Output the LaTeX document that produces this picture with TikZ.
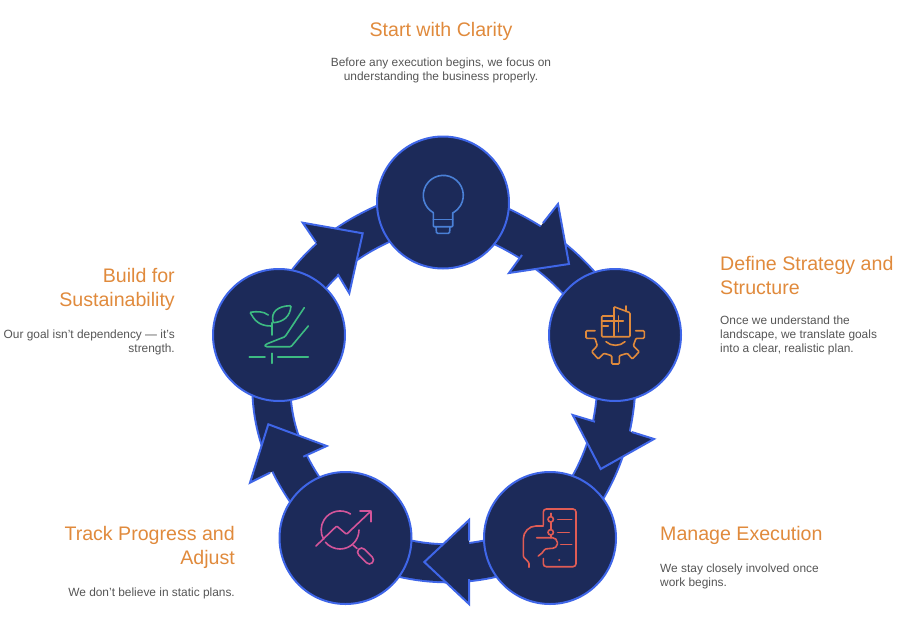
\documentclass[tikz,border=0pt]{standalone}
\usepackage{fontspec}
\setmainfont{Liberation Sans}
\usepackage{tikz}
\usetikzlibrary{positioning,backgrounds}
\definecolor{DeepNavy}{HTML}{1C2A59}
\definecolor{RimBlue}{HTML}{3F66E8}
\definecolor{TitleOrange}{HTML}{E08A3C}
\definecolor{BodyGray}{HTML}{555555}
\definecolor{BulbBlue}{HTML}{4A80D6}
\definecolor{GearOrange}{HTML}{E08A3C}
\definecolor{PhoneRed}{HTML}{E05C55}
\definecolor{ChartPink}{HTML}{D4559A}
\definecolor{PlantGreen}{HTML}{3DBB82}
\begin{document}
\begin{tikzpicture}[x=1pt,y=-1pt,
stage/.style={circle,draw=RimBlue,fill=DeepNavy,line width=2pt,minimum size=132pt,inner sep=0pt},
band/.style={line width=2pt,draw=RimBlue,double=DeepNavy,double distance=36pt},
head/.style={draw=RimBlue,fill=DeepNavy,line width=2pt,line join=miter},
icon/.style={line width=1.6pt,rounded corners=1pt,line cap=round},
title/.style={inner sep=0pt,text=TitleOrange,font=\fontsize{19.6}{24}\selectfont},
body/.style={inner sep=0pt,text=BodyGray,font=\fontsize{11.9}{14}\selectfont}]
\useasboundingbox (0,0) rectangle (908,640);
\node[stage] (clarity) at (443,202.5) {};
\node[stage] (strategy) at (615,335) {};
\node[stage] (execution) at (550,538) {};
\node[stage] (progress) at (345.5,538) {};
\node[stage] (sustain) at (279,335) {};
\begin{scope}[on background layer]
\draw[band] (clarity.center) to[out=18,in=156,relative] (strategy.center);
\draw[band] (strategy.center) to[out=23,in=155,relative] (execution.center);
\draw[band] (execution.center) to[out=25,in=155,relative] (progress.center);
\draw[band] (progress.center) to[out=27,in=146,relative] (sustain.center);
\draw[band] (sustain.center) to[out=32,in=157,relative] (clarity.center);
\draw[head] (543,223)--(558,204)--(569,264)--(509,273)--(522,255);
\draw[head] (595,421.7)--(572.7,415)--(600.7,469)--(654,439)--(631.7,432);
\draw[head] (469,540.7)--(469,520)--(424.3,562)--(469,604)--(469,579);
\draw[head] (303.3,456.7)--(326.7,446)--(268.3,424.3)--(250,482.7)--(270,472.7);
\draw[head] (316,242.3)--(302.7,222.7)--(362.7,233.3)--(349.3,293.3)--(337.7,274);
\end{scope}
\begin{scope}[icon,draw=BulbBlue]
\draw (433.3,212.7) arc[start angle=120,end angle=420,radius=20];
\draw (433.3,212.7)--(433.3,226.7)--(452.7,226.7)--(452.7,212.7);
\draw (433.3,219.3)--(452.7,219.3);
\draw (436,226.7)--(436.5,233.3)--(449.5,233.3)--(450,226.7);
\end{scope}
\begin{scope}[icon,draw=GearOrange]
\draw (614,336.7)--(601.7,336.7)--(601.7,316)--(614,316);
\draw (614,336.7)--(614,306.7)--(630,312.7)--(630,336.7)--(614,336.7);
\draw (626,306)--(626,311.5);
\draw (614,321)--(623.3,321);
\draw (601.7,321)--(614,321);
\draw (602.7,326)--(608.3,326);
\draw (618.3,316)--(618.3,331.7);
\draw (606,341.7) .. controls (611,346.5) and (620,346.5) .. (625,341.7);
\draw (595,330.7)--(586,330.7)--(586,338.3)--(595,338.3)--(597.3,345.7)--(591.7,351.7)--(598.3,359)--(604,353.3)--(611.7,355.7)--(611.7,364)--(619.3,364)--(619.3,355.7)--(627.3,353.3)--(632.3,359)--(639.3,351.7)--(633.3,345.7)--(636,338.3)--(644.3,338.3)--(644.3,330.7)--(635.7,330.7);
\end{scope}
\begin{scope}[icon,draw=PhoneRed]
\draw[rounded corners=3pt] (543.3,525)--(543.3,509)--(576,509)--(576,566.7)--(543.3,566.7)--(543.3,558.5);
\draw (550.7,513.3)--(550.7,516.6);
\draw (550.7,522)--(550.7,529.6);
\draw (550.7,535)--(550.7,537.7);
\draw (550.7,519.3) circle[radius=2.7];
\draw (550.7,532.3) circle[radius=2.7];
\draw (557.7,519.3)--(571.7,519.3);
\draw (557.7,532.3)--(569.3,532.3);
\draw (560.7,544.3)--(571.7,544.3);
\fill[PhoneRed] (559.3,560) circle[radius=1.1];
\draw (543.3,526)--(537,526) .. controls (529,526) and (523.3,532) .. (523.3,540)--(523.3,556.7)--(529,562.7)--(529,567.3);
\draw (536.7,537.7)--(551.7,537.7) .. controls (555,537.7) and (557.3,540) .. (557.3,543.3) .. controls (557.3,546.5) and (554.5,548.3) .. (551.7,548.3)--(545,549) .. controls (543,552) and (541,554.5) .. (538.3,556);
\end{scope}
\begin{scope}[icon,draw=ChartPink]
\draw (350.5,514) arc[start angle=-57,end angle=-210,radius=19];
\draw (359,530) arc[start angle=0,end angle=140,radius=19];
\draw (316,546)--(336.7,526)--(346.5,534.3)--(371,511);
\draw (360,511)--(371,511)--(371,521.7);
\draw (353,545)--(357,548.5);
\draw[rotate around={-45:(365.5,556)},rounded corners=3.8pt] (356,552)rectangle(375,560);
\end{scope}
\begin{scope}[icon,draw=PlantGreen]
\draw (271.7,322.7)--(271.7,335);
\draw (273.3,322.7) .. controls (270,312) and (278,306) .. (291,305.7) .. controls (290,316) and (284,322) .. (273.3,322.7);
\draw (268.3,315) .. controls (263,311) and (257,311.5) .. (250,312.3) .. controls (254,319) and (258,326) .. (271,326);
\draw (304.3,307.7)--(285,336.7)--(268.3,343.3) .. controls (264,345) and (265,347) .. (268,346.7)--(291,346.7)--(308.3,326);
\draw (249.3,356.7)--(265,356.7);
\draw (277.7,356.7)--(308.3,356.7);
\draw (271.7,353.3)--(271.7,363.3);
\end{scope}
\node[title,align=center,anchor=north] (claritytitle) at (441,22) {Start with Clarity};
\node[body,align=center,below=17pt of claritytitle] (claritytext) {Before any execution begins, we focus on\\understanding the business properly.};
\node[title,align=left,anchor=north west] (strategytitle) at (720,256) {Define Strategy and\\Structure};
\node[body,align=left,below=21pt of strategytitle.south west,anchor=north west] (strategytext) {Once we understand the\\landscape, we translate goals\\into a clear, realistic plan.};
\node[title,align=left,anchor=north west] (executiontitle) at (660,526) {Manage Execution};
\node[body,align=left,below=19pt of executiontitle.south west,anchor=north west] (executiontext) {We stay closely involved once\\work begins.};
\node[title,align=right,anchor=north east] (progresstitle) at (235,526) {Track Progress and\\Adjust};
\node[body,align=right,below=19pt of progresstitle.south east,anchor=north east] (progresstext) {We don’t believe in static plans.};
\node[title,align=right,anchor=north east] (sustaintitle) at (175,268) {Build for\\Sustainability};
\node[body,align=right,below=19pt of sustaintitle.south east,anchor=north east] (sustaintext) {Our goal isn’t dependency — it’s\\strength.};
\end{tikzpicture}
\end{document}
